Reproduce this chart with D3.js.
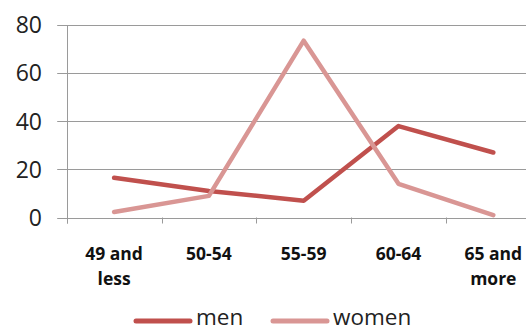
<!DOCTYPE html>
<html><head><meta charset="utf-8">
<script src="https://cdn.jsdelivr.net/npm/d3@7"></script>
<style>html,body{margin:0;padding:0;background:#fff;}svg{display:block;}</style>
</head><body>
<svg id="c" width="526" height="331"></svg>
<script>
const categories = [["49 and","less"],["50-54"],["55-59"],["60-64"],["65 and","more"]];
const catKeys = ["49 and less","50-54","55-59","60-64","65 and more"];
const men = [16.5, 11, 7, 38, 27];
const women = [2.3, 9, 73.5, 14, 1];
const yTicks = [0, 20, 40, 60, 80];
const seriesNames = ["men","women"];
const colors = ["#C0504D","#D99694"];

const svg = d3.select("#c");
const mLeft = 66.7, mRight = 540.7, mTop = 25, mBottom = 217.5;
const x = d3.scaleBand().domain(catKeys).range([mLeft, mRight]);
const y = d3.scaleLinear().domain([0, 80]).range([mBottom, mTop]);

// gridlines
svg.append("g").selectAll("line").data(yTicks).join("line")
  .attr("x1", mLeft - 9.5).attr("x2", 526)
  .attr("y1", d => Math.round(y(d)) + 0.5).attr("y2", d => Math.round(y(d)) + 0.5)
  .attr("stroke", "#9a9a9a").attr("stroke-width", 1);
// y axis line
svg.append("line").attr("x1", Math.round(mLeft)+0.5).attr("x2", Math.round(mLeft)+0.5)
  .attr("y1", mTop).attr("y2", mBottom + 6).attr("stroke", "#9a9a9a");
// x ticks at band boundaries
const bounds = catKeys.map(k => x(k)).concat([mRight]);
svg.append("g").selectAll("line").data(bounds).join("line")
  .attr("x1", d => Math.round(d)+0.5).attr("x2", d => Math.round(d)+0.5)
  .attr("y1", mBottom).attr("y2", mBottom + 6).attr("stroke", "#9a9a9a");

// y labels
svg.append("g").selectAll("text").data(yTicks).join("text")
  .attr("x", 42).attr("y", d => y(d)).attr("dy", "0.36em")
  .attr("text-anchor", "end")
  .attr("font-family", "Open Sans").attr("font-size", 23).attr("fill", "#222")
  .text(d => d);

// x labels
const xl = svg.append("g").selectAll("text").data(catKeys).join("text")
  .attr("text-anchor", "middle")
  .attr("font-family", "Open Sans").attr("font-weight", "bold").attr("font-size", 17.5).attr("fill", "#111");
xl.each(function(d, i) {
  const t = d3.select(this);
  categories[i].forEach((line, j) => {
    t.append("tspan").attr("x", x(d) + x.bandwidth()/2).attr("y", 259.5 + j * 25.5).text(line);
  });
});

// lines
const lineGen = d3.line().x((d, i) => x(catKeys[i]) + x.bandwidth()/2).y(d => y(d));
[men, women].forEach((vals, si) => {
  svg.append("path").datum(vals).attr("d", lineGen)
    .attr("fill", "none").attr("stroke", colors[si]).attr("stroke-width", 4.5)
    .attr("stroke-linecap", "round").attr("stroke-linejoin", "round");
});
// legend
const legX = [136, 273];
seriesNames.forEach((n, i) => {
  svg.append("line").attr("x1", legX[i]).attr("x2", legX[i] + 54)
    .attr("y1", 321).attr("y2", 321).attr("stroke", colors[i]).attr("stroke-width", 5).attr("stroke-linecap", "round");
  svg.append("text").attr("x", legX[i] + 60).attr("y", 325)
    .attr("font-family", "Open Sans").attr("font-size", 22.5).attr("fill", "#222").text(n);
});
</script>
</body></html>
